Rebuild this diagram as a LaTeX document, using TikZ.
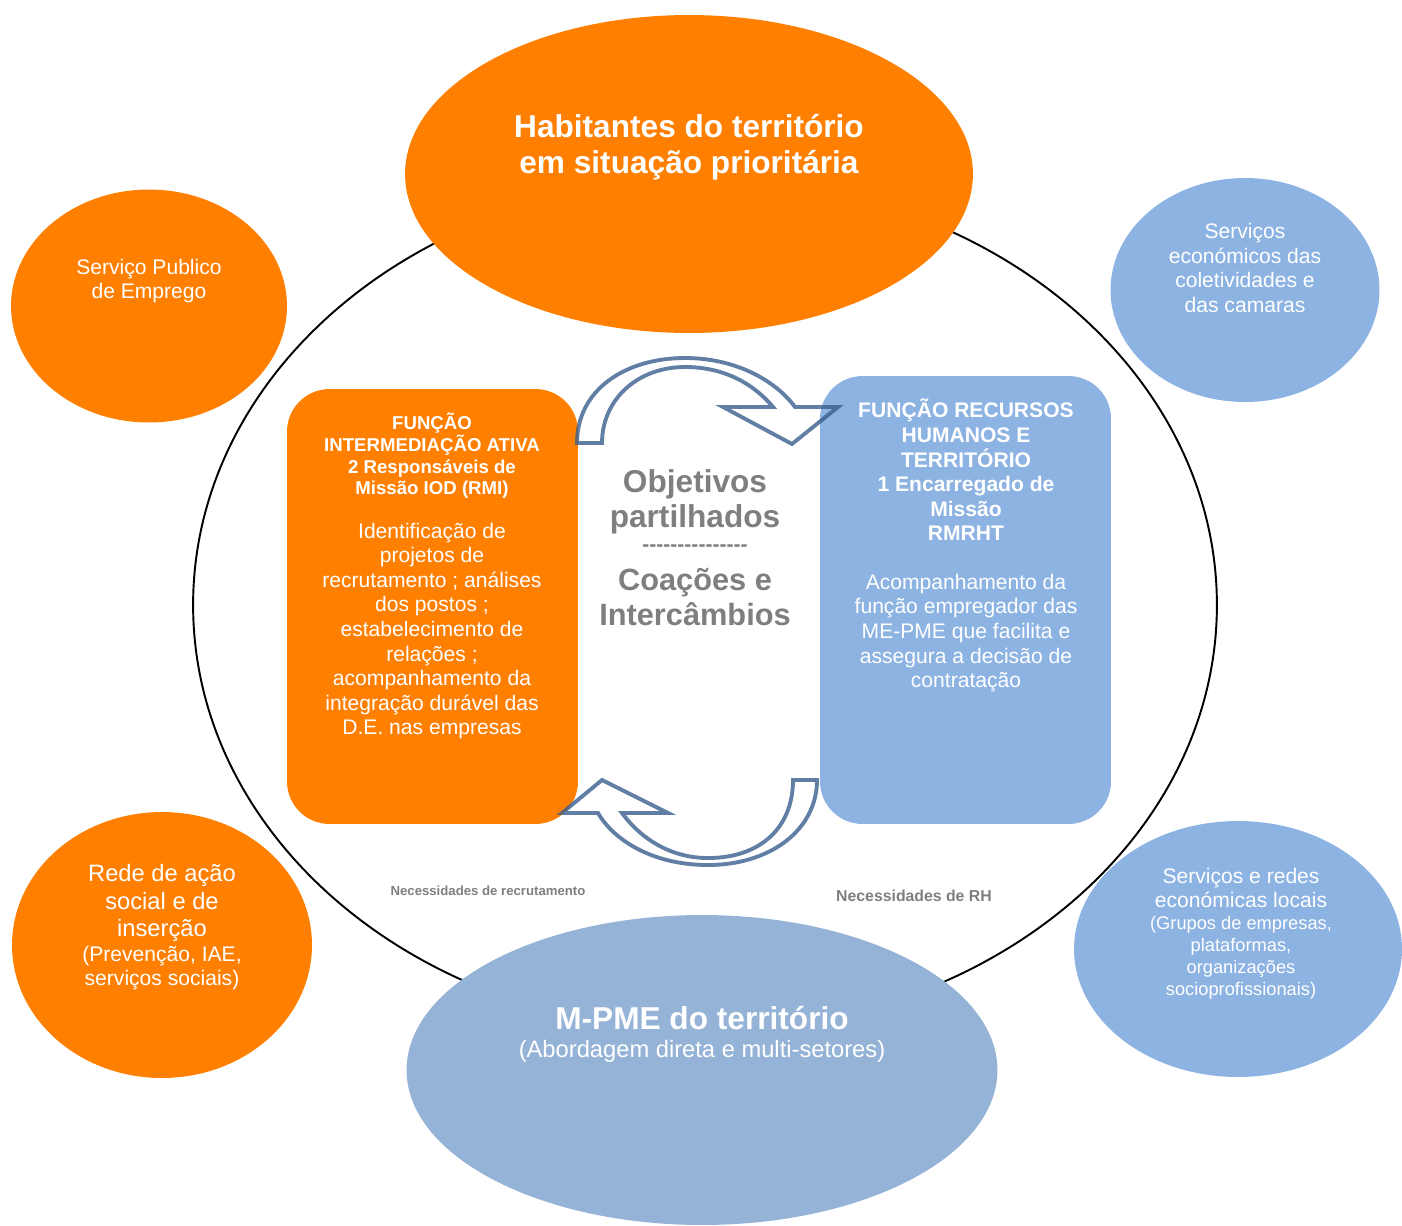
\documentclass[tikz,border=0pt]{standalone}
\usepackage{fontspec}
\setmainfont{Liberation Sans}
\usepackage{tikz}
\usepackage{xcolor}
\usetikzlibrary{shapes.geometric}

\definecolor{laranja}{HTML}{FF8000}
\definecolor{azul}{HTML}{8DB3E2}
\definecolor{azulpme}{HTML}{95B3D7}
\definecolor{cinza}{HTML}{7F7F7F}
\definecolor{seta}{HTML}{3A5F8F}

\newcommand\tracos{\foreach\i in {1,...,15}{-\kern0pt}}

\begin{document}
\begin{tikzpicture}[x=0.02cm,y=-0.02cm]
\tikzstyle{bubble}=[ellipse,inner sep=0pt]
\tikzstyle{funcao}=[rectangle,rounded corners=0.85cm,inner sep=0pt,minimum width=5.82cm]
\tikzstyle{txt}=[text=white,align=center,inner sep=0pt]
\tikzstyle{body}=[txt,font=\fontsize{12}{14}\selectfont]
\tikzstyle{head}=[txt,font=\bfseries\fontsize{12}{14}\selectfont]
\tikzstyle{curved}=[draw=seta,draw opacity=0.8,line width=2.2pt,line join=miter]

\useasboundingbox (0,0) rectangle (1402,1225);

\draw[line width=1.1pt] (705,605) ellipse [x radius=10.24cm, y radius=8.52cm];

\node[bubble,fill=laranja,minimum width=11.36cm,minimum height=6.36cm](Habitantes) at (689,174){};
\node[bubble,fill=laranja,minimum width=5.52cm,minimum height=4.66cm](SPE) at (149,306){};
\node[bubble,fill=laranja,minimum width=6cm,minimum height=5.32cm](Rede) at (162,945){};
\node[bubble,fill=azul,minimum width=5.38cm,minimum height=4.48cm](Camaras) at (1245,290){};
\node[bubble,fill=azul,minimum width=6.56cm,minimum height=5.12cm](Redes) at (1238,949){};
\node[bubble,fill=azulpme,minimum width=11.82cm,minimum height=6.2cm](MPME) at (702,1070){};

\node[funcao,fill=laranja,minimum height=8.7cm](RMI) at (432.5,606.5){};
\node[funcao,fill=azul,minimum height=8.96cm](RMRHT) at (965.5,600){};

\draw[curved] (577,443) .. controls (577,390) and (625,358) .. (685,358)
  .. controls (735,358) and (775,380) .. (795,407) -- (838,407) -- (792,444)
  -- (723,407) -- (773,407) .. controls (752,382) and (722,367) .. (685,367)
  .. controls (637,367) and (602,400) .. (602,443) -- cycle;
\draw[curved] (817,780) .. controls (817,830) and (770,865) .. (708,865)
  .. controls (655,865) and (615,842) .. (598,813) -- (562,813) -- (602,780)
  -- (668,813) -- (622,813) .. controls (642,840) and (672,858) .. (708,858)
  .. controls (760,858) and (793,828) .. (793,780) -- cycle;

\node[txt,font=\bfseries\fontsize{18}{20.5}\selectfont](HabitantesText) at (689,147){Habitantes do território\\em situação prioritária};
\node[body](SPEText) at (149,281){Serviço Publico\\de Emprego};
\node[body](CamarasText) at (1245,268){Serviços\\económicos das\\coletividades e\\das camaras};
\node[txt,font=\fontsize{13.5}{15.6}\selectfont](RedeText) at (162,903){Rede de ação\\social e de\\inserção};
\node[txt,font=\fontsize{12}{13.6}\selectfont](RedeSub) at (162,968){(Prevenção, IAE,\\serviços sociais)};
\node[body](RedesText) at (1241,888){Serviços e redes\\económicas locais};
\node[txt,font=\fontsize{10.4}{12.5}\selectfont](RedesSub) at (1241,958){(Grupos de empresas,\\plataformas,\\organizações\\socioprofissionais)};
\node[txt,font=\bfseries\fontsize{18}{20}\selectfont](MPMEText) at (702,1018){M-PME do território};
\node[txt,font=\fontsize{13.5}{15.6}\selectfont](MPMESub) at (702,1051){(Abordagem direta e multi-setores)};

\node[txt,font=\bfseries\fontsize{10.6}{12.3}\selectfont](RMIHead) at (432,456){FUNÇÃO\\INTERMEDIAÇÃO ATIVA\\2 Responsáveis de\\Missão IOD (RMI)};
\node[body](RMIBody) at (432,631){Identificação de\\projetos de\\recrutamento ; análises\\dos postos ;\\estabelecimento de\\relações ;\\acompanhamento da\\integração durável das\\D.E. nas empresas};
\node[head](RMRHTHead) at (966,470){FUNÇÃO RECURSOS\\HUMANOS E\\TERRITÓRIO\\1 Encarregado de\\Missão\\RMRHT};
\node[body](RMRHTBody) at (966,633){Acompanhamento da\\função empregador das\\ME-PME que facilita e\\assegura a decisão de\\contratação};

\node[txt,text=cinza,font=\bfseries\fontsize{18}{19.8}\selectfont](Objetivos) at (695,502){Objetivos\\partilhados};
\node[txt,text=cinza,font=\bfseries\fontsize{12}{14}\selectfont](Separador) at (695,548){\tracos};
\node[txt,text=cinza,font=\bfseries\fontsize{17.5}{19.8}\selectfont](Coacoes) at (695,597){Coações e\\Intercâmbios};

\node[text=cinza,font=\bfseries\fontsize{7.5}{9}\selectfont,inner sep=0pt](NecRec) at (488,891){Necessidades de recrutamento};
\node[text=cinza,font=\bfseries\fontsize{9}{11}\selectfont,inner sep=0pt](NecRH) at (914,896){Necessidades de RH};

\end{tikzpicture}
\end{document}
